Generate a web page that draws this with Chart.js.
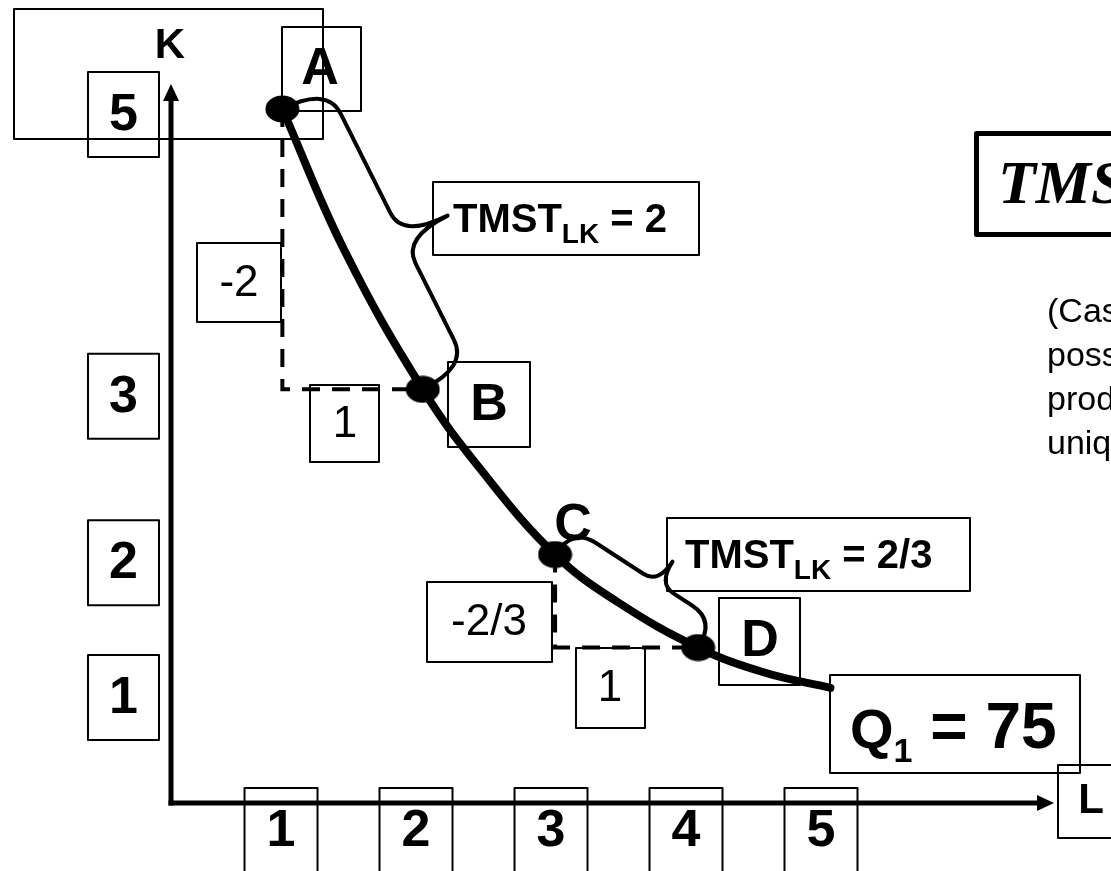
<!DOCTYPE html>
<html><head><meta charset="utf-8">
<script src="https://cdn.jsdelivr.net/npm/chart.js@4.4.0/dist/chart.umd.min.js"></script>
<style>html,body{margin:0;padding:0;background:#fff;overflow:hidden}canvas{display:block}</style>
</head><body>
<canvas id="c" width="1111" height="871"></canvas>
<script>
// ---- data ----
const curveL = [1.01, 1.47, 2.05, 2.49, 3.03, 3.49, 4.09, 4.58, 5.07];
const curveK = [5.00, 3.98, 2.98, 2.39, 1.79, 1.45, 1.12, 0.94, 0.83];
const pointNames = ['A', 'B', 'C', 'D'];
const pointL = [1.01, 2.05, 3.03, 4.09];
const pointK = [5.00, 2.98, 1.79, 1.12];
const xTickValues = [1, 2, 3, 4, 5];
const xTickLabels = ['1', '2', '3', '4', '5'];
const yTickValues = [4.96, 2.93, 1.73, 0.76];
const yTickLabels = ['5', '3', '2', '1'];
const axisTitles = ['L', 'K'];
const stepTexts = ['-2', '1', '-2/3', '1'];
const tmstValues = ['2', '2/3'];
const isoquantLabel = ['Q', '1', ' = 75'];
const sideTitle = 'TMS';
const sideLines = ['(Cas', 'poss', 'prod', 'uniq'];

const SANS = '"Liberation Sans", Arial, sans-serif';
const SERIF = '"Liberation Serif", "Times New Roman", serif';

const pts = (L, K) => L.map((v, i) => ({x: v, y: K[i]}));
const curveData = pts(curveL, curveK);
const markData = pts(pointL, pointK);
const step1 = [{x: pointL[0], y: pointK[0]}, {x: pointL[0], y: pointK[1]}, {x: pointL[1], y: pointK[1]}];
const step2 = [{x: pointL[2], y: pointK[2]}, {x: pointL[2], y: pointK[3]}, {x: pointL[3], y: pointK[3]}];

// ellipse marker
const dot = document.createElement('canvas');
dot.width = 35; dot.height = 28;
(function(){const g = dot.getContext('2d'); g.fillStyle = '#000'; g.beginPath(); g.ellipse(17.5, 14, 17, 13.5, 0, 0, Math.PI*2); g.fill();})();

function rect(ctx, x, y, w, h, lw) { ctx.lineWidth = lw; ctx.strokeStyle = '#000'; ctx.strokeRect(x, y, w, h); }
function ctext(ctx, t, x, y, font) { ctx.font = font; ctx.fillStyle = '#000'; ctx.textAlign = 'center'; ctx.textBaseline = 'middle'; ctx.fillText(t, x, y); }
function runs(ctx, x, y, list) {
  ctx.textAlign = 'left'; ctx.textBaseline = 'alphabetic'; ctx.fillStyle = '#000';
  for (const r of list) { ctx.font = r.f; ctx.fillText(r.t, x, y + (r.dy || 0)); x += ctx.measureText(r.t).width; }
}
function brace(ctx, p1, p2, arm, tip, frac, rEnd, rTip) {
  const dx = p2.x - p1.x, dy = p2.y - p1.y, L = Math.hypot(dx, dy);
  const d = {x: dx / L, y: dy / L}, n = {x: d.y, y: -d.x};
  const T = (u, v) => [p1.x + d.x * u + n.x * v, p1.y + d.y * u + n.y * v];
  const m = frac * L;
  ctx.beginPath();
  ctx.moveTo(...T(0, 0));
  ctx.quadraticCurveTo(...T(0, arm), ...T(rEnd, arm));
  ctx.lineTo(...T(m - rTip, arm));
  ctx.quadraticCurveTo(...T(m, arm), ...T(m, tip));
  ctx.quadraticCurveTo(...T(m, arm), ...T(m + rTip, arm));
  ctx.lineTo(...T(L - rEnd, arm));
  ctx.quadraticCurveTo(...T(L, arm), ...T(L, 0));
  ctx.lineWidth = 4; ctx.lineCap = 'round'; ctx.lineJoin = 'round'; ctx.strokeStyle = '#000';
  ctx.stroke();
}

const diagram = {
  id: 'diagram',
  beforeDatasetsDraw(chart) {
    const ctx = chart.ctx, ca = chart.chartArea;
    ctx.save();
    ctx.strokeStyle = '#000'; ctx.fillStyle = '#000'; ctx.lineWidth = 5; ctx.lineCap = 'butt';
    ctx.beginPath(); ctx.moveTo(ca.left, ca.bottom + 2.5); ctx.lineTo(ca.left, ca.top + 15); ctx.stroke();
    ctx.beginPath(); ctx.moveTo(ca.left, ca.top); ctx.lineTo(ca.left - 8, ca.top + 17); ctx.lineTo(ca.left + 8, ca.top + 17); ctx.closePath(); ctx.fill();
    ctx.beginPath(); ctx.moveTo(ca.left - 2.5, ca.bottom); ctx.lineTo(ca.right - 15, ca.bottom); ctx.stroke();
    ctx.beginPath(); ctx.moveTo(ca.right, ca.bottom); ctx.lineTo(ca.right - 17, ca.bottom - 8); ctx.lineTo(ca.right - 17, ca.bottom + 8); ctx.closePath(); ctx.fill();
    ctx.restore();
  },
  afterDatasetsDraw(chart) {
    const ctx = chart.ctx, xs = chart.scales.x, ys = chart.scales.y, ca = chart.chartArea;
    const P = i => ({x: xs.getPixelForValue(pointL[i]), y: ys.getPixelForValue(pointK[i])});
    ctx.save();
    // braces
    brace(ctx, P(0), P(1), 50, 100, 0.54, 30, 28);
    brace(ctx, P(2), P(3), 32, 58, 0.60, 28, 18);

    // tick boxes
    const bold52 = 'bold 52px ' + SANS;
    xTickValues.forEach((v, i) => {
      const px = xs.getPixelForValue(v);
      rect(ctx, px - 36.5, ca.bottom - 15, 73, 95, 2);
      ctext(ctx, xTickLabels[i], px, ca.bottom + 29, bold52);
    });
    yTickValues.forEach((v, i) => {
      const py = ys.getPixelForValue(v);
      rect(ctx, ca.left - 83, py - 42.5, 71, 85, 2);
      ctext(ctx, yTickLabels[i], ca.left - 47.5, py + 1, bold52);
    });

    // top-left frame and axis titles
    rect(ctx, 14, 9, 309, 130, 2);
    ctext(ctx, axisTitles[1], 170, 46, 'bold 42px ' + SANS);
    rect(ctx, 1058, 765, 70, 73, 2);
    ctext(ctx, axisTitles[0], 1091, 801, 'bold 42px ' + SANS);

    // point letters
    rect(ctx, 282, 27, 79, 84, 2);
    ctext(ctx, pointNames[0], 320, 70, bold52);
    rect(ctx, 448, 362, 82, 85, 2);
    ctext(ctx, pointNames[1], 489, 406, bold52);
    ctext(ctx, pointNames[2], 573, 526, bold52);
    rect(ctx, 719, 598, 81, 87, 2);
    ctext(ctx, pointNames[3], 760, 642, bold52);

    // step boxes
    const reg44 = '44px ' + SANS;
    rect(ctx, 197, 243, 84, 79, 2); ctext(ctx, stepTexts[0], 239, 284, reg44);
    rect(ctx, 310, 385, 69, 77, 2); ctext(ctx, stepTexts[1], 345, 425, reg44);
    rect(ctx, 427, 582, 125, 80, 2); ctext(ctx, stepTexts[2], 489, 623, reg44);
    rect(ctx, 576, 648, 69, 80, 2); ctext(ctx, stepTexts[3], 610, 689, reg44);

    // TMST boxes
    const b40 = 'bold 40px ' + SANS, b28 = 'bold 28px ' + SANS;
    rect(ctx, 433, 182, 266, 73, 2);
    runs(ctx, 453, 232, [{t: 'TMST', f: b40}, {t: 'LK', f: b28, dy: 11}, {t: ' = ' + tmstValues[0], f: b40}]);
    rect(ctx, 667, 518, 303, 73, 2);
    runs(ctx, 685, 568, [{t: 'TMST', f: b40}, {t: 'LK', f: b28, dy: 11}, {t: ' = ' + tmstValues[1], f: b40}]);

    // isoquant label
    rect(ctx, 830, 675, 250, 98, 2);
    runs(ctx, 850, 748, [{t: isoquantLabel[0], f: 'bold 56px ' + SANS}, {t: isoquantLabel[1], f: 'bold 34px ' + SANS, dy: 14}, {t: isoquantLabel[2], f: 'bold 64px ' + SANS}]);

    // side panel
    rect(ctx, 976.5, 133.5, 160, 101, 5);
    runs(ctx, 998, 203, [{t: sideTitle, f: 'italic bold 62px ' + SERIF}]);
    sideLines.forEach((t, i) => runs(ctx, 1047, 322 + i * 44, [{t, f: '34px ' + SANS}]));
    ctx.restore();
  }
};

new Chart(document.getElementById('c'), {
  type: 'scatter',
  data: {
    datasets: [
      {data: markData, showLine: false, pointStyle: dot, pointRadius: 14, order: 0},
      {data: curveData, showLine: true, borderColor: '#000', borderWidth: 8, pointRadius: 0, tension: 0.4, borderCapStyle: 'round', borderJoinStyle: 'round', order: 1},
      {data: step1, showLine: true, borderColor: '#000', borderWidth: 4, borderDash: [18, 12], pointRadius: 0, tension: 0, order: 2},
      {data: step2, showLine: true, borderColor: '#000', borderWidth: 4, borderDash: [18, 12], pointRadius: 0, tension: 0, order: 2}
    ]
  },
  options: {
    responsive: false, animation: false, devicePixelRatio: 1, events: [],
    layout: {padding: {left: 171, right: 57, top: 84, bottom: 68}},
    plugins: {legend: {display: false}, tooltip: {enabled: false}},
    scales: {
      x: {type: 'linear', min: 0.185, max: 6.726, display: false},
      y: {type: 'linear', min: 0, max: 5.18, display: false}
    }
  },
  plugins: [diagram]
});
</script>
</body></html>
